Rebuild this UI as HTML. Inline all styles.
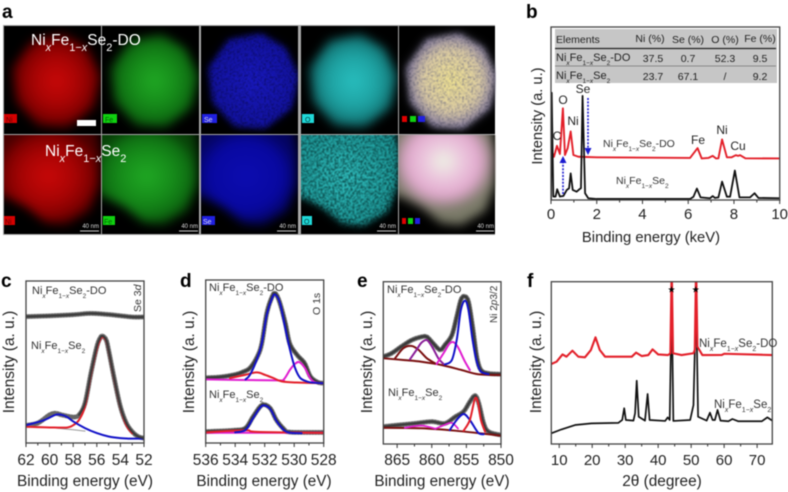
<!DOCTYPE html>
<html lang="en">
<head>
<meta charset="utf-8">
<title>NiFeSe characterisation figure</title>
<style>
html,body{margin:0;padding:0;background:#fff;width:788px;height:492px;overflow:hidden}
svg{display:block;filter:blur(.5px)}
text{font-family:"Liberation Sans",sans-serif;fill:#222}
.letter{font-weight:bold;font-size:19px;fill:#000}
.f{fill:#333}
.w{fill:#fff;font-size:15.5px}
.tag{font-size:7px;fill:#dde}
.sb{font-size:6px;fill:#ddd;text-anchor:end}
.tb{font-size:10.5px;fill:#222}
.tc{font-size:10.5px;fill:#222;text-anchor:middle}
.pk{font-size:12px;fill:#222;text-anchor:middle}
</style>
</head>
<body>
<svg id="fig" xmlns="http://www.w3.org/2000/svg" width="788" height="492" viewBox="0 0 788 492">
<defs>
<path id="blobTop" d="M8,42 L28,14 L60,8 L84,22 L97,50 L90,82 L64,102 L34,100 L12,76Z"/>
<path id="blobBot" d="M-8,-8 L92,-8 L97,18 L96,50 L86,76 L62,90 L42,88 L22,72 L2,62 L-8,60Z"/>
<clipPath id="cellTop"><rect width="97" height="108"/></clipPath>
<clipPath id="cellBot"><rect width="97" height="99"/></clipPath>
<filter id="soft" x="-20%" y="-20%" width="140%" height="140%" color-interpolation-filters="sRGB"><feGaussianBlur stdDeviation="5"/></filter>
<filter id="speck" x="-20%" y="-20%" width="140%" height="140%" color-interpolation-filters="sRGB">
<feGaussianBlur in="SourceGraphic" stdDeviation="3" result="b"/>
<feTurbulence type="fractalNoise" baseFrequency=".55" numOctaves="2" seed="4" result="n"/>
<feColorMatrix in="n" type="matrix" values="0 0 0 0 0 0 0 0 0 0 0 0 0 0 0 2.4 0 0 0 -.35" result="a"/>
<feGaussianBlur in="a" stdDeviation=".5" result="a2"/>
<feComposite in="b" in2="a2" operator="in"/>
</filter>
<filter id="speckStrong" x="-20%" y="-20%" width="140%" height="140%" color-interpolation-filters="sRGB">
<feGaussianBlur in="SourceGraphic" stdDeviation="3" result="b"/>
<feTurbulence type="fractalNoise" baseFrequency=".5" numOctaves="2" seed="9" result="n"/>
<feColorMatrix in="n" type="matrix" values="0 0 0 0 0 0 0 0 0 0 0 0 0 0 0 3.6 0 0 0 -1.2" result="a"/>
<feGaussianBlur in="a" stdDeviation=".5" result="a2"/>
<feComposite in="b" in2="a2" operator="in"/>
</filter>
<radialGradient id="gNi"><stop offset="0" stop-color="#c80808"/><stop offset=".5" stop-color="#a80404"/><stop offset=".85" stop-color="#7c0000"/><stop offset="1" stop-color="#480000"/></radialGradient>
<radialGradient id="gFe"><stop offset="0" stop-color="#20a824"/><stop offset=".5" stop-color="#168c1a"/><stop offset=".85" stop-color="#0e6c12"/><stop offset="1" stop-color="#084008"/></radialGradient>
<radialGradient id="gSe"><stop offset="0" stop-color="#1a1ac4"/><stop offset="1" stop-color="#1212a0"/></radialGradient>
<radialGradient id="gSe2"><stop offset="0" stop-color="#0c0cb0"/><stop offset=".7" stop-color="#0808a0"/><stop offset="1" stop-color="#040460"/></radialGradient>
<radialGradient id="gO"><stop offset="0" stop-color="#28bebe"/><stop offset=".55" stop-color="#1ea2a2"/><stop offset=".85" stop-color="#147c7c"/><stop offset="1" stop-color="#0a4c4c"/></radialGradient>
<radialGradient id="gO2"><stop offset="0" stop-color="#34c8c8"/><stop offset="1" stop-color="#20a0a0"/></radialGradient>
<radialGradient id="gMix"><stop offset="0" stop-color="#f6e890"/><stop offset=".65" stop-color="#e0cfa4"/><stop offset="1" stop-color="#8a80a2"/></radialGradient>
<radialGradient id="gMix2" cx=".5" cy=".35"><stop offset="0" stop-color="#eef2e4"/><stop offset=".35" stop-color="#ecc8de"/><stop offset=".7" stop-color="#e0a8cc"/><stop offset="1" stop-color="#7a7a68"/></radialGradient>
</defs>

<rect width="788" height="492" fill="#fff"/>
<text class="letter" x="2" y="18">a</text>
<text class="letter" x="526" y="18">b</text>
<text class="letter" x="1" y="287">c</text>
<text class="letter" x="180" y="287">d</text>
<text class="letter" x="357" y="287">e</text>
<text class="letter" x="527" y="287">f</text>

<g>
<rect x="3" y="25" width="492" height="210" fill="#a8a8a8"/>
<g transform="translate(4,26)" clip-path="url(#cellTop)"><rect width="97" height="108" fill="#000"/><use href="#blobTop" fill="url(#gNi)" filter="url(#soft)"/></g>
<g transform="translate(102,26)" clip-path="url(#cellTop)"><rect width="98" height="108" fill="#000"/><use href="#blobTop" fill="url(#gFe)" filter="url(#soft)"/></g>
<g transform="translate(201,26)" clip-path="url(#cellTop)"><rect width="98" height="108" fill="#000"/><use href="#blobTop" fill="#08084e" filter="url(#soft)"/><use href="#blobTop" fill="url(#gSe)" filter="url(#speck)"/></g>
<g transform="translate(301,26)" clip-path="url(#cellTop)"><rect width="97" height="108" fill="#000"/><use href="#blobTop" fill="url(#gO)" filter="url(#soft)"/></g>
<g transform="translate(399,26)" clip-path="url(#cellTop)"><rect width="96" height="108" fill="#000"/><use href="#blobTop" fill="#6a6880" filter="url(#soft)"/><use href="#blobTop" fill="url(#gMix)" filter="url(#speck)"/></g>
<g transform="translate(4,135)" clip-path="url(#cellBot)"><rect width="97" height="99" fill="#000"/><use href="#blobBot" fill="url(#gNi)" filter="url(#soft)"/></g>
<g transform="translate(102,135)" clip-path="url(#cellBot)"><rect width="98" height="99" fill="#000"/><use href="#blobBot" fill="url(#gFe)" filter="url(#soft)"/></g>
<g transform="translate(201,135)" clip-path="url(#cellBot)"><rect width="98" height="99" fill="#000"/><use href="#blobBot" fill="url(#gSe2)" filter="url(#soft)"/></g>
<g transform="translate(301,135)" clip-path="url(#cellBot)"><rect width="97" height="99" fill="#000"/><use href="#blobBot" fill="#0c5050" filter="url(#soft)"/><use href="#blobBot" fill="url(#gO2)" filter="url(#speckStrong)"/></g>
<g transform="translate(399,135)" clip-path="url(#cellBot)"><rect width="96" height="99" fill="#000"/><use href="#blobBot" fill="url(#gMix2)" filter="url(#soft)"/></g>

<text class="w" x="31" y="45">Ni<tspan baseline-shift="sub" font-size="11" font-style="italic">x</tspan>Fe<tspan baseline-shift="sub" font-size="11">1−<tspan font-style="italic">x</tspan></tspan>Se<tspan baseline-shift="sub" font-size="11">2</tspan>-DO</text>
<text class="w" x="45" y="156">Ni<tspan baseline-shift="sub" font-size="11" font-style="italic">x</tspan>Fe<tspan baseline-shift="sub" font-size="11">1−<tspan font-style="italic">x</tspan></tspan>Se<tspan baseline-shift="sub" font-size="11">2</tspan></text>
<rect x="77" y="120" width="19" height="6" fill="#fff"/>

<g>
<rect x="4" y="114" width="13" height="9" fill="#d40000"/><text class="tag" x="6" y="122" style="fill:#600">Ni</text>
<rect x="103" y="114" width="14" height="9" fill="#10d010"/><text class="tag" x="105" y="122" style="fill:#060">Fe</text>
<rect x="202" y="114" width="15" height="9" fill="#2020e0"/><text class="tag" x="204" y="122">Se</text>
<rect x="302" y="114" width="12" height="9" fill="#20d8d8"/><text class="tag" x="305" y="122" style="fill:#044">O</text>
<rect x="402" y="116" width="5" height="6" fill="#e00000"/><rect x="410" y="116" width="6" height="6" fill="#10d010"/><rect x="418" y="116" width="7" height="6" fill="#2020e0"/>
<rect x="4" y="216" width="11" height="9" fill="#d40000"/><text class="tag" x="5" y="224" style="fill:#600">Ni</text>
<rect x="103" y="216" width="12" height="9" fill="#10d010"/><text class="tag" x="104" y="224" style="fill:#060">Fe</text>
<rect x="202" y="216" width="13" height="9" fill="#2020e0"/><text class="tag" x="203" y="224">Se</text>
<rect x="302" y="216" width="10" height="9" fill="#20d8d8"/><text class="tag" x="304" y="224" style="fill:#044">O</text>
<rect x="402" y="218" width="4" height="6" fill="#e00000"/><rect x="408" y="218" width="5" height="6" fill="#10d010"/><rect x="415" y="218" width="5" height="6" fill="#2020e0"/>
</g>

<g>
<text class="sb" x="99" y="228">40 nm</text><line x1="80" x2="99" y1="231" y2="231" stroke="#ccc"/>
<text class="sb" x="198" y="228">40 nm</text><line x1="179" x2="198" y1="231" y2="231" stroke="#ccc"/>
<text class="sb" x="296" y="228">40 nm</text><line x1="277" x2="296" y1="231" y2="231" stroke="#ccc"/>
<text class="sb" x="396" y="228">40 nm</text><line x1="377" x2="396" y1="231" y2="231" stroke="#ccc"/>
<text class="sb" x="494" y="228">40 nm</text><line x1="476" x2="494" y1="231" y2="231" stroke="#ccc"/>
</g>
</g>

<g id="charts"></g>

<g>
<rect x="555" y="29" width="222" height="54" fill="#c6c6c6"/>
<line x1="555" x2="776" y1="48.5" y2="48.5" stroke="#222" stroke-width="1.2"/>
<line x1="555" x2="776" y1="66" y2="66" stroke="#888" stroke-width="1"/>
<text class="tb" x="556" y="43">Elements</text>
<text class="tc" x="650" y="42">Ni (%)</text>
<text class="tc" x="688" y="43">Se (%)</text>
<text class="tc" x="725" y="43">O (%)</text>
<text class="tc" x="760" y="42">Fe (%)</text>
<text class="tb" x="556" y="61" style="font-size:11px">Ni<tspan baseline-shift="sub" font-size="6.5" font-style="italic">x</tspan>Fe<tspan baseline-shift="sub" font-size="6.5">1−<tspan font-style="italic">x</tspan></tspan>Se<tspan baseline-shift="sub" font-size="6.5">2</tspan>-DO</text>
<text class="tc" x="653" y="62">37.5</text>
<text class="tc" x="688" y="62">0.7</text>
<text class="tc" x="725" y="62">52.3</text>
<text class="tc" x="760" y="62">9.5</text>
<text class="tb" x="556" y="79" style="font-size:11px">Ni<tspan baseline-shift="sub" font-size="6.5" font-style="italic">x</tspan>Fe<tspan baseline-shift="sub" font-size="6.5">1−<tspan font-style="italic">x</tspan></tspan>Se<tspan baseline-shift="sub" font-size="6.5">2</tspan></text>
<text class="tc" x="653" y="80">23.7</text>
<text class="tc" x="688" y="80">67.1</text>
<text class="tc" x="725" y="80">/</text>
<text class="tc" x="760" y="80">9.2</text>
</g>

<g>
<text class="pk" x="557" y="140">C</text>
<text class="pk" x="563" y="104">O</text>
<text class="pk" x="573" y="125">Ni</text>
<text class="pk" x="583" y="93">Se</text>
<text class="pk" x="698" y="144">Fe</text>
<text class="pk" x="722" y="134">Ni</text>
<text class="pk" x="738" y="150">Cu</text>
<line x1="588" x2="588" y1="98" y2="150" stroke="#1a1ad0" stroke-width="1.6" stroke-dasharray="2 1.4"/>
<path d="M584.5,148 L591.5,148 L588,155Z" fill="#1a1ad0"/>
<line x1="563" x2="563" y1="194" y2="162" stroke="#1a1ad0" stroke-width="1.6" stroke-dasharray="2 1.4"/>
<path d="M559.5,163 L566.5,163 L563,156Z" fill="#1a1ad0"/>
</g>

<g font-size="10.5">
<text class="f" x="603" y="147" font-size="10.5">Ni<tspan baseline-shift="sub" font-size="6.5" font-style="italic">x</tspan>Fe<tspan baseline-shift="sub" font-size="6.5">1−<tspan font-style="italic">x</tspan></tspan>Se<tspan baseline-shift="sub" font-size="6.5">2</tspan>-DO</text>
<text class="f" x="616" y="184" font-size="10.5">Ni<tspan baseline-shift="sub" font-size="6.5" font-style="italic">x</tspan>Fe<tspan baseline-shift="sub" font-size="6.5">1−<tspan font-style="italic">x</tspan></tspan>Se<tspan baseline-shift="sub" font-size="6.5">2</tspan></text>
<text class="f" x="32" y="294" font-size="11">Ni<tspan baseline-shift="sub" font-size="6.5" font-style="italic">x</tspan>Fe<tspan baseline-shift="sub" font-size="6.5">1−<tspan font-style="italic">x</tspan></tspan>Se<tspan baseline-shift="sub" font-size="6.5">2</tspan>-DO</text>
<text class="f" x="31" y="349" font-size="11">Ni<tspan baseline-shift="sub" font-size="6.5" font-style="italic">x</tspan>Fe<tspan baseline-shift="sub" font-size="6.5">1−<tspan font-style="italic">x</tspan></tspan>Se<tspan baseline-shift="sub" font-size="6.5">2</tspan></text>
<text class="f" x="209" y="291" font-size="11">Ni<tspan baseline-shift="sub" font-size="6.5" font-style="italic">x</tspan>Fe<tspan baseline-shift="sub" font-size="6.5">1−<tspan font-style="italic">x</tspan></tspan>Se<tspan baseline-shift="sub" font-size="6.5">2</tspan>-DO</text>
<text class="f" x="209" y="398" font-size="11">Ni<tspan baseline-shift="sub" font-size="6.5" font-style="italic">x</tspan>Fe<tspan baseline-shift="sub" font-size="6.5">1−<tspan font-style="italic">x</tspan></tspan>Se<tspan baseline-shift="sub" font-size="6.5">2</tspan></text>
<text class="f" x="387" y="293" font-size="11">Ni<tspan baseline-shift="sub" font-size="6.5" font-style="italic">x</tspan>Fe<tspan baseline-shift="sub" font-size="6.5">1−<tspan font-style="italic">x</tspan></tspan>Se<tspan baseline-shift="sub" font-size="6.5">2</tspan>-DO</text>
<text class="f" x="388" y="396" font-size="11">Ni<tspan baseline-shift="sub" font-size="6.5" font-style="italic">x</tspan>Fe<tspan baseline-shift="sub" font-size="6.5">1−<tspan font-style="italic">x</tspan></tspan>Se<tspan baseline-shift="sub" font-size="6.5">2</tspan></text>
<text class="f" x="699" y="347" font-size="11.5">Ni<tspan baseline-shift="sub" font-size="7" font-style="italic">x</tspan>Fe<tspan baseline-shift="sub" font-size="7">1−<tspan font-style="italic">x</tspan></tspan>Se<tspan baseline-shift="sub" font-size="7">2</tspan>-DO</text>
<text class="f" x="714" y="408" font-size="11.5">Ni<tspan baseline-shift="sub" font-size="7" font-style="italic">x</tspan>Fe<tspan baseline-shift="sub" font-size="7">1−<tspan font-style="italic">x</tspan></tspan>Se<tspan baseline-shift="sub" font-size="7">2</tspan></text>
<text class="f" transform="translate(141,312) rotate(-90)" font-size="10.5">Se 3<tspan font-style="italic">d</tspan></text>
<text class="f" transform="translate(320,315) rotate(-90)" font-size="10.5">O 1s</text>
<text class="f" transform="translate(497,323) rotate(-90)" font-size="10">Ni 2<tspan font-style="italic">p</tspan>3/2</text>
<text x="671.5" y="292.5" font-size="9" text-anchor="middle" style="fill:#000;font-family:'DejaVu Sans',sans-serif">★</text>
<text x="695.7" y="292.5" font-size="9" text-anchor="middle" style="fill:#000;font-family:'DejaVu Sans',sans-serif">★</text>
</g>
</svg>

<script>
// Panel b: EDX spectra
const bBlackE = [0,0.03,0.1,0.2,0.27,0.39,0.54,0.69,0.79,0.86,0.95,1.12,1.24,1.31,1.38,1.49,1.63,2,6.08,6.23,6.38,6.54,6.95,7.07,7.17,7.32,7.48,7.69,7.83,8.04,8.24,8.7,8.9,9.07,10];
const bBlackI = [0,62,2,2,6.2,2,2.3,5.8,6.8,15.4,5.8,4.8,6.2,6.8,60.2,3.9,1,0.6,0.6,1.9,6.6,1.5,1,2.3,1.2,1.5,10.6,1.9,1.9,17,1.5,1.5,3.9,1.2,1];
const bRedE = [0,0.04,0.13,0.26,0.39,0.52,0.61,0.73,0.86,0.98,1.2,2,6.08,6.41,6.59,6.88,7.07,7.22,7.32,7.48,7.69,7.9,8.08,8.18,8.27,8.5,10];
const bRedI = [23.5,28,25,31.3,26.6,53,26,30,39.6,26,25,24.7,24.3,30,24,24.3,25.5,24,24.1,35,24.7,24.7,25.9,25.5,25.9,24.1,24];
const bTicks = [0,2,4,6,8,10];
const bMinor = [1,3,5,7,9];

// Panel c: Se 3d
const cTopE = [62,60,58,56.5,55,53,52];
const cTopI = [78,78.5,79.2,80,79.3,77.8,77.8];
const cFitE = [62,61,60,59.5,59,58,57.5,57,56.5,56,55.7,55.5,55.2,55,54.5,54,53.5,53,52.5,52];
const cFitI = [10.9,12.3,17.4,18.4,17.4,16,17.4,24.6,43,59.4,65,66,63.5,57.4,39,22.5,12.3,7,4,3];
const cRedE = [62,60,58.5,58,57.5,57,56.5,56,55.7,55.5,55.2,55,54.5,54,53.5,53];
const cRedI = [10,9.6,9.6,11,14.3,22.5,42,58,64,65.5,63,57,38.5,22,11,6];
const cBlueE = [62,60.5,59.5,59,58.5,58,57,56,55,54,53,52];
const cBlueI = [11,14,17.4,17.4,16,13.3,9.2,6.1,4,3,2.7,2.7];
const cBaseE = [62,60,58,57];
const cBaseI = [10.6,9.6,8.2,7.3];
const cTicks = [62,60,58,56,54,52];
const cMinor = [61,59,57,55,53];

// Panel d: O 1s
const dFitE = [536,535,534,533.5,533,532.5,532.2,531.86,531.5,531.28,531,530.6,530.3,529.8,529.3,528.9,528.4,528];
const dFitI = [40,40.5,42,43.5,46,53,61,79.6,89.8,91.8,86.7,73.5,61,54,49,40.8,37.3,36.7];
const dBlueE = [533.3,533,532.54,532.2,531.86,531.5,531.28,530.96,530.62,530.28,529.94,529.6,529.15,528.7,528];
const dBlueI = [39,41.8,51,61,78.6,88.8,91,85.7,71,57,46,40,37.8,37,36.7];
const dRedE = [534.35,533.33,532.54,531.98,531.4,530.85,529.83,528];
const dRedI = [39.8,41.8,43.3,41.8,39.8,37.8,37.1,36.7];
const dMagE = [536,531.2,530.73,530.28,529.94,529.65,529.27,528.93,528.6,528];
const dMagI = [39,38.4,38.8,45,48.6,49.6,46,40,37.2,36.7];
const dLowFitE = [536,534.1,533.3,532.8,532.3,532,531.6,531.2,530.7,530.3,528];
const dLowFitI = [7,7.8,9.2,16,22.4,23.5,21,14,8.6,6.7,6.5];
const dLowBlueE = [534,533.3,532.8,532.3,532,531.6,531.2,530.7,530.3,529.5];
const dLowBlueI = [6.5,8,15,21.8,23,20.5,13.5,8,6.3,6];
const dLowRedE = [536,533.3,532.5,528];
const dLowRedI = [6.5,7.8,6.8,6.2];
const dLowMagE = [536,532,528];
const dLowMagI = [6.3,6.3,6.3];
const dTicks = [536,534,532,530,528];
const dMinor = [535,533,531,529];

// Panel e: Ni 2p3/2
const eFitE = [867,865.8,864.4,862.9,861.5,860.7,859.8,858.8,858.1,857.1,856.4,855.8,855.3,854.7,854.1,853.5,852.9,851.8,850];
const eFitI = [53.8,55.9,60,64,66,66,62,58,61,67,78.4,88.7,91,87.7,72.3,53.8,45.6,43.5,43];
const eBaseE = [867,863.9,861.5,858.6,855.7,853.3,850];
const eBaseI = [52.8,51.7,50.7,48.7,45.6,43,42.5];
const eBrownE = [865.3,864.1,862.9,861.9,860.7,859.5];
const eBrownI = [52.8,59,60.4,58,52.8,49.7];
const ePurpleE = [863.15,862.2,861.5,860.7,859.9,859.05,858.3];
const ePurpleI = [52.2,58,62.4,64,59.5,52.8,49.3];
const eMagE = [859.3,858.3,857.4,856.8,856.2,855.2,854.5];
const eMagI = [49.3,55.9,62,62.6,59.5,50.7,45.6];
const eBlueE = [858.1,857.1,856.4,855.8,855.2,854.7,854.1,853.5,852.9,851.8];
const eBlueI = [49,51.7,64,82.5,88.3,82.5,64,50.7,44.6,43];
const eLowFitE = [867,864.8,862.4,860,858.1,856.6,855.4,854.5,853.75,853.2,852.5,851.8,850];
const eLowFitI = [10.7,11.7,12.7,13.8,12.7,16.8,20,26,29.8,25,12.7,7.6,5.5];
const eLowBaseE = [867,861.5,856.6,851.8,850];
const eLowBaseI = [10,9.7,8.2,6,5.1];
const eLowMag1E = [863.9,861.5,859.5];
const eLowMag1I = [10,11.3,9.5];
const eLowMag2E = [859.5,858.3,857.1,856.2];
const eLowMag2I = [9.3,11.5,13,9.5];
const eLowBlueE = [857.4,856.4,855.4,854.5,853.3,852.5];
const eLowBlueI = [8.6,14.8,18.5,14.8,7,6];
const eLowRedE = [855.4,854.5,853.75,853.3,852.9,852.3];
const eLowRedI = [8.2,14.8,28,25,14.8,7.6];
const eTicks = [865,860,855,850];
const eMinor = [862.5,857.5,852.5];

// Panel f: XRD
const fBlackD = [7.6,10.7,14.8,19.8,27.9,29.1,29.7,30.2,32.5,33,33.5,34.1,36,36.8,37.4,42.1,42.9,43.5,44.1,44.6,49.7,50.7,51.5,52.1,54.7,55.7,56.5,57.2,58,58.9,61.3,62.5,64.3,71.4,73.1,74.6];
const fBlackI = [6.6,9,11.7,12.7,13,14.8,22,14.8,14.4,18.9,39,16.8,14.4,30.8,14.8,14.2,16.4,14.8,90,14.2,14.8,24,90,16.8,14.4,19.3,14.8,14.8,21,14.4,14,15.4,14,14,16.4,14.4];
const fRedD = [7.6,9.2,11,12.2,14,15.8,17.8,19.6,21,22.3,23.9,32,33.3,35,37,38.3,40,43,43.7,44.1,44.5,47.1,50.7,51.1,51.5,51.9,53.4,59.3,60,74.6];
const fRedI = [49.3,50.7,55.2,53.8,57.5,53.8,53.4,57.9,65.7,57.9,53.8,53.8,56.3,54.2,54.8,58.3,55.2,54.8,55.9,110,55.9,54.8,55.9,58,110,60,54.8,54.9,55.6,54.8];
const fTicks = [10,20,30,40,50,60,70];
const fMinor = [15,25,35,45,55,65];

const SVGNS = 'http://www.w3.org/2000/svg';
const root = document.getElementById('charts');

function axisX(d0, d1, p0, p1) {
  return v => p0 + (v - d0) / (d1 - d0) * (p1 - p0);
}
function axisY(top, bottom) {
  return v => bottom - v / 100 * (bottom - top);
}
function add(parent, tag, name) {
  const el = document.createElementNS(SVGNS, tag);
  
  
  parent.appendChild(el);
  return el;
}
function straightPath(xs, ys, sx, sy) {
  return xs.map((v, i) => (i ? 'L' : 'M') + sx(v).toFixed(2) + ',' + sy(ys[i]).toFixed(2)).join(' ');
}
function smoothPath(xs, ys, sx, sy) {
  const p = xs.map((v, i) => [sx(v), sy(ys[i])]);
  let d = 'M' + p[0][0].toFixed(2) + ',' + p[0][1].toFixed(2);
  for (let i = 0; i < p.length - 1; i++) {
    const a = p[Math.max(i - 1, 0)], b = p[i], c = p[i + 1], e = p[Math.min(i + 2, p.length - 1)];
    const c1x = b[0] + (c[0] - a[0]) / 6, c1y = b[1] + (c[1] - a[1]) / 6;
    const c2x = c[0] - (e[0] - b[0]) / 6, c2y = c[1] - (e[1] - b[1]) / 6;
    d += ' C' + c1x.toFixed(2) + ',' + c1y.toFixed(2) + ' ' + c2x.toFixed(2) + ',' + c2y.toFixed(2) + ' ' + c[0].toFixed(2) + ',' + c[1].toFixed(2);
  }
  return d;
}
function line(g, name, d, color, width, extra) {
  const el = add(g, 'path', name);
  el.setAttribute('d', d);
  el.setAttribute('fill', 'none');
  el.setAttribute('stroke', color);
  el.setAttribute('stroke-width', width);
  el.setAttribute('stroke-linejoin', 'round');
  el.setAttribute('stroke-linecap', 'round');
  if (extra) { el.setAttribute('stroke-dasharray', extra); }
  return el;
}
function panel(cfg) {
  const g = add(root, 'g', cfg.name);
  const clipId = cfg.name + '-clip';
  const clip = document.createElementNS(SVGNS, 'clipPath');
  clip.setAttribute('id', clipId);
  const cr = document.createElementNS(SVGNS, 'rect');
  cr.setAttribute('x', cfg.left);
  cr.setAttribute('y', cfg.top);
  cr.setAttribute('width', cfg.right - cfg.left);
  cr.setAttribute('height', cfg.bottom - cfg.top);
  clip.appendChild(cr);
  g.appendChild(clip);
  const marks = add(g, 'g', cfg.name + '-series');
  marks.setAttribute('clip-path', 'url(#' + clipId + ')');
  const frame = add(g, 'rect', cfg.name + '-frame');
  frame.setAttribute('x', cfg.left);
  frame.setAttribute('y', cfg.top);
  frame.setAttribute('width', cfg.right - cfg.left);
  frame.setAttribute('height', cfg.bottom - cfg.top);
  frame.setAttribute('fill', 'none');
  frame.setAttribute('stroke', '#444');
  frame.setAttribute('stroke-width', '1.3');
  cfg.ticks.forEach(t => {
    const l = add(g, 'line', cfg.name + '-tick');
    l.setAttribute('x1', cfg.sx(t));
    l.setAttribute('x2', cfg.sx(t));
    l.setAttribute('y1', cfg.bottom);
    l.setAttribute('y2', cfg.bottom + 4);
    l.setAttribute('stroke', '#333');
    const tx = add(g, 'text', cfg.name + '-tick-label');
    tx.setAttribute('x', cfg.sx(t));
    tx.setAttribute('y', cfg.tickY);
    tx.setAttribute('text-anchor', 'middle');
    tx.setAttribute('font-size', cfg.tickSize);
    tx.textContent = t;
  });
  cfg.minor.forEach(t => {
    const l = add(g, 'line', cfg.name + '-minor-tick');
    l.setAttribute('x1', cfg.sx(t));
    l.setAttribute('x2', cfg.sx(t));
    l.setAttribute('y1', cfg.bottom);
    l.setAttribute('y2', cfg.bottom + 2.5);
    l.setAttribute('stroke', '#333');
  });
  const xt = add(g, 'text', cfg.name + '-x-title');
  xt.setAttribute('x', cfg.titleX);
  xt.setAttribute('y', cfg.titleY);
  xt.setAttribute('text-anchor', 'middle');
  xt.setAttribute('font-size', cfg.titleSize);
  xt.textContent = cfg.xTitle;
  const yt = add(g, 'text', cfg.name + '-y-title');
  yt.setAttribute('transform', 'translate(' + cfg.yTitleX + ',' + cfg.yTitleY + ') rotate(-90)');
  yt.setAttribute('text-anchor', 'middle');
  yt.setAttribute('font-size', cfg.ySize);
  yt.textContent = 'Intensity (a. u.)';
  return marks;
}

const RED = '#e3202a', BLUE = '#1212c8', MAG = '#e01ed0', MAROON = '#7a1010', PURPLE = '#8a1e98', FIT = '#3a3a3a', DOT = '#666';
const COMP = 2;
function scatterFit(g, name, xs, ys, sx, sy) {
  const d = smoothPath(xs, ys, sx, sy);
  line(g, name + '-halo', d, '#a0a0a0', 5);
  line(g, name + '-points', d, DOT, 4.4, '0.1 2.8');
  return d;
}

// Panel b
const bTop = 27, bBottom = 200;
const bx = axisX(0, 10, 551, 779.7), by = axisY(bTop, bBottom);
const bMarks = panel({name:'edx-panel',left:551,right:779.7,top:bTop,bottom:bBottom,sx:bx,ticks:bTicks,minor:bMinor,tickY:219,tickSize:15,titleX:651,titleY:242,titleSize:14.8,xTitle:'Binding energy (keV)',yTitleX:542,yTitleY:116,ySize:14.7});
line(bMarks, 'edx-do-line', straightPath(bRedE, bRedI, bx, by), RED, 1.9);
line(bMarks, 'edx-line', straightPath(bBlackE, bBlackI, bx, by), '#111', 1.8);

// Panel c
const cTop = 281, cBottom = 443;
const cx = axisX(62, 52, 26, 144), cy = axisY(cTop, cBottom);
const cMarks = panel({name:'se3d-panel',left:26,right:144,top:cTop,bottom:cBottom,sx:cx,ticks:cTicks,minor:cMinor,tickY:465,tickSize:15.5,titleX:85,titleY:486,titleSize:15.4,xTitle:'Binding energy (eV)',yTitleX:14,yTitleY:362,ySize:15.5});
scatterFit(cMarks, 'se3d-do', cTopE, cTopI, cx, cy);
line(cMarks, 'se3d-do-fit', smoothPath(cTopE, cTopI, cx, cy), FIT, 2);
scatterFit(cMarks, 'se3d', cFitE, cFitI, cx, cy);
line(cMarks, 'se3d-baseline', smoothPath(cBaseE, cBaseI, cx, cy), '#999', 1);
line(cMarks, 'se3d-red', smoothPath(cRedE, cRedI, cx, cy), RED, COMP);
line(cMarks, 'se3d-blue', smoothPath(cBlueE, cBlueI, cx, cy), BLUE, COMP);
line(cMarks, 'se3d-fit', smoothPath(cFitE.slice(6), cFitI.slice(6), cx, cy), FIT, 2);

// Panel d
const dTop = 280, dBottom = 443;
const dx = axisX(536, 528, 205.7, 323.7), dy = axisY(dTop, dBottom);
const dMarks = panel({name:'o1s-panel',left:205.7,right:323.7,top:dTop,bottom:dBottom,sx:dx,ticks:dTicks,minor:dMinor,tickY:465,tickSize:15.5,titleX:264,titleY:486,titleSize:15.3,xTitle:'Binding energy (eV)',yTitleX:194,yTitleY:362,ySize:15.5});
scatterFit(dMarks, 'o1s-do', dFitE, dFitI, dx, dy);
line(dMarks, 'o1s-do-fit', smoothPath(dFitE, dFitI, dx, dy), FIT, 2.4);
line(dMarks, 'o1s-do-magenta', smoothPath(dMagE, dMagI, dx, dy), MAG, COMP);
line(dMarks, 'o1s-do-red', smoothPath(dRedE, dRedI, dx, dy), RED, COMP);
line(dMarks, 'o1s-do-blue', smoothPath(dBlueE, dBlueI, dx, dy), BLUE, COMP);
scatterFit(dMarks, 'o1s', dLowFitE, dLowFitI, dx, dy);
line(dMarks, 'o1s-fit', smoothPath(dLowFitE, dLowFitI, dx, dy), FIT, 2.4);
line(dMarks, 'o1s-magenta', smoothPath(dLowMagE, dLowMagI, dx, dy), MAG, COMP);
line(dMarks, 'o1s-red', smoothPath(dLowRedE, dLowRedI, dx, dy), RED, COMP);
line(dMarks, 'o1s-blue', smoothPath(dLowBlueE, dLowBlueI, dx, dy), BLUE, COMP);

// Panel e
const eTop = 281.7, eBottom = 444;
const ex = axisX(867, 850, 383.3, 501), ey = axisY(eTop, eBottom);
const eMarks = panel({name:'ni2p-panel',left:383.3,right:501,top:eTop,bottom:eBottom,sx:ex,ticks:eTicks,minor:eMinor,tickY:465,tickSize:15.5,titleX:442,titleY:486,titleSize:15.3,xTitle:'Binding energy (eV)',yTitleX:372,yTitleY:362,ySize:15.5});
scatterFit(eMarks, 'ni2p-do', eFitE, eFitI, ex, ey);
line(eMarks, 'ni2p-do-fit', smoothPath(eFitE, eFitI, ex, ey), FIT, 2.4);
line(eMarks, 'ni2p-do-baseline', smoothPath(eBaseE, eBaseI, ex, ey), MAROON, COMP);
line(eMarks, 'ni2p-do-brown', smoothPath(eBrownE, eBrownI, ex, ey), MAROON, COMP);
line(eMarks, 'ni2p-do-purple', smoothPath(ePurpleE, ePurpleI, ex, ey), PURPLE, COMP);
line(eMarks, 'ni2p-do-magenta', smoothPath(eMagE, eMagI, ex, ey), MAG, COMP);
line(eMarks, 'ni2p-do-blue', smoothPath(eBlueE, eBlueI, ex, ey), BLUE, COMP);
scatterFit(eMarks, 'ni2p', eLowFitE, eLowFitI, ex, ey);
line(eMarks, 'ni2p-fit', smoothPath(eLowFitE, eLowFitI, ex, ey), FIT, 2);
line(eMarks, 'ni2p-baseline', smoothPath(eLowBaseE, eLowBaseI, ex, ey), MAROON, COMP);
line(eMarks, 'ni2p-magenta-1', smoothPath(eLowMag1E, eLowMag1I, ex, ey), MAG, 1.7);
line(eMarks, 'ni2p-magenta-2', smoothPath(eLowMag2E, eLowMag2I, ex, ey), MAG, 1.7);
line(eMarks, 'ni2p-blue', smoothPath(eLowBlueE, eLowBlueI, ex, ey), BLUE, COMP);
line(eMarks, 'ni2p-red', smoothPath(eLowRedE, eLowRedI, ex, ey), RED, COMP);

// Panel f
const fTop = 281.7, fBottom = 444;
const fx = axisX(7.6, 74.6, 551.3, 772.3), fy = axisY(fTop, fBottom);
const fMarks = panel({name:'xrd-panel',left:551.3,right:772.3,top:fTop,bottom:fBottom,sx:fx,ticks:fTicks,minor:fMinor,tickY:465,tickSize:15,titleX:662,titleY:486,titleSize:15.4,xTitle:'2θ (degree)',yTitleX:541,yTitleY:362,ySize:15.5});
line(fMarks, 'xrd-line', straightPath(fBlackD, fBlackI, fx, fy), '#111', 1.7);
line(fMarks, 'xrd-do-line', straightPath(fRedD, fRedI, fx, fy), RED, 2.1);
</script>
</body>
</html>
